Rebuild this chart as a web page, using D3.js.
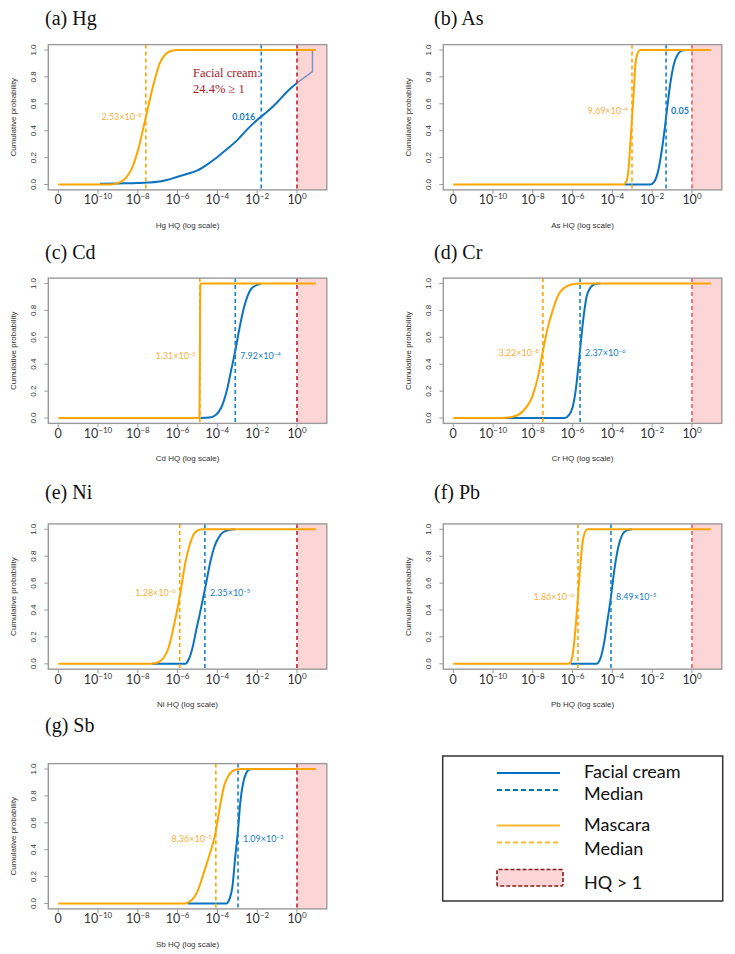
<!DOCTYPE html>
<html lang="en">
<head>
<meta charset="utf-8">
<style>
body { margin: 0; background: #fff; }
svg { font-family: Arial, "Liberation Sans", sans-serif; }
</style>
<script src="https://d3js.org/d3.v7.min.js"></script>
</head>
<body>
<svg width="735" height="954"></svg>
<script>

// ---- data (x values are log10 HQ, -12 is drawn as "0") ----
var titles = ["(a) Hg", "(b) As", "(c) Cd", "(d) Cr", "(e) Ni", "(f) Pb", "(g) Sb"];
var metals = ["Hg", "As", "Cd", "Cr", "Ni", "Pb", "Sb"];
var creamMedian   = [0.016, 0.05, 7.92e-4, 2.37e-6, 2.35e-5, 8.49e-5, 1.09e-3];
var mascaraMedian = [2.53e-8, 9.69e-4, 1.31e-5, 3.22e-8, 1.28e-6, 1.86e-6, 8.36e-5];
var creamText   = ["0.016", "0.05", "7.92×10^-4", "2.37×10^-6", "2.35×10^-5", "8.49×10^-5", "1.09×10^-3"];
var mascaraText = ["2.53×10^-8", "9.69×10^-4", "1.31×10^-5", "3.22×10^-8", "1.28×10^-6", "1.86×10^-6", "8.36×10^-5"];
var xTicks = [-12, -10, -8, -6, -4, -2, 0];
var xTickLabels = ["0", "10^-10", "10^-8", "10^-6", "10^-4", "10^-2", "10^0"];
var yTicks = [0, 0.2, 0.4, 0.6, 0.8, 1];

var creamHg = [[-9.9,0.005],[-9,0.008],[-8,0.011],[-7.5,0.014],[-7,0.02],[-6.5,0.035],[-6,0.058],[-5.5,0.08],[-5,0.105],[-4.5,0.15],[-4,0.205],[-3.5,0.265],[-3,0.33],[-2.5,0.41],[-2,0.48],[-1.5,0.54],[-1,0.61],[-0.5,0.69],[0,0.755]];
var creamHgTail = [[0,0.755],[0.78,0.84],[0.78,1]];
var creamAs = [[-3.4,0],[-2.1,0],[-1.9,0.02],[-1.7,0.1],[-1.5,0.27],[-1.3,0.5],[-1.1,0.74],[-0.9,0.9],[-0.7,0.97],[-0.5,0.995],[-0.3,1]];
var creamCd = [[-4.85,0],[-4.4,0.003],[-4.1,0.02],[-3.8,0.08],[-3.5,0.22],[-3.3,0.36],[-3.1,0.5],[-2.9,0.66],[-2.7,0.8],[-2.5,0.9],[-2.3,0.96],[-2,0.99],[-1.8,1]];
var creamCr = [[-9.4,0],[-6.4,0],[-6.2,0.02],[-6,0.08],[-5.85,0.2],[-5.63,0.5],[-5.45,0.75],[-5.3,0.9],[-5.1,0.97],[-4.9,0.995],[-4.6,1]];
var creamNi = [[-7.3,0],[-5.6,0],[-5.45,0.03],[-5.25,0.12],[-5.05,0.26],[-4.9,0.36],[-4.63,0.55],[-4.35,0.76],[-4.15,0.87],[-3.93,0.94],[-3.7,0.98],[-3.4,0.995],[-3.1,1]];
var creamPb = [[-6.1,0],[-4.8,0],[-4.6,0.04],[-4.4,0.17],[-4.25,0.32],[-4.07,0.5],[-3.9,0.7],[-3.7,0.87],[-3.5,0.96],[-3.3,0.99],[-3,1]];
var creamSb = [[-5.5,0],[-3.55,0],[-3.4,0.03],[-3.25,0.12],[-3.1,0.35],[-2.96,0.55],[-2.85,0.75],[-2.7,0.9],[-2.55,0.97],[-2.4,0.995],[-2.2,1]];

var mascaraHg = [[-12,0],[-9.4,0],[-9,0.01],[-8.6,0.05],[-8.3,0.12],[-8,0.25],[-7.6,0.5],[-7.2,0.75],[-6.9,0.9],[-6.6,0.97],[-6.3,0.995],[-6,1],[0.95,1]];
var mascaraAs = [[-12,0],[-3.45,0],[-3.3,0.02],[-3.2,0.1],[-3.1,0.3],[-3.01,0.5],[-2.92,0.7],[-2.85,0.88],[-2.75,0.97],[-2.6,1],[0.95,1]];
var mascaraCd = [[-12,0],[-4.92,0],[-4.9,0.02],[-4.88,0.5],[-4.86,0.98],[-4.83,1],[0.95,1]];
var mascaraCr = [[-12,0],[-9.6,0],[-9,0.01],[-8.5,0.05],[-8,0.17],[-7.75,0.3],[-7.49,0.5],[-7.25,0.67],[-7,0.8],[-6.7,0.92],[-6.4,0.97],[-6,0.995],[-5.6,1],[0.95,1]];
var mascaraNi = [[-12,0],[-7.4,0],[-7,0.01],[-6.7,0.045],[-6.45,0.12],[-6.25,0.24],[-5.89,0.5],[-5.6,0.76],[-5.4,0.88],[-5.2,0.96],[-5,0.99],[-4.8,1],[0.95,1]];
var mascaraPb = [[-12,0],[-6.2,0],[-6.05,0.03],[-5.95,0.12],[-5.85,0.27],[-5.73,0.5],[-5.6,0.75],[-5.5,0.9],[-5.4,0.97],[-5.25,1],[0.95,1]];
var mascaraSb = [[-12,0],[-5.6,0],[-5.4,0.015],[-5.2,0.04],[-5,0.09],[-4.7,0.22],[-4.4,0.36],[-4.1,0.52],[-3.85,0.74],[-3.65,0.88],[-3.4,0.96],[-3.1,0.995],[-2.8,1],[0.95,1]];

var creamCurves = [creamHg, creamAs, creamCd, creamCr, creamNi, creamPb, creamSb];
var mascaraCurves = [mascaraHg, mascaraAs, mascaraCd, mascaraCr, mascaraNi, mascaraPb, mascaraSb];

// ---- layout ----
var colX = [48.3, 443.3], boxW = 278.5;
var rowP1 = [50, 283.5, 529.3, 769], plotH = 134.5; // pixel of prob 1.0
var titleX = [45, 434], titleY = [24.5, 258.5, 499, 732];
var labelP = [0.5, 0.55, 0.46, 0.48, 0.53, 0.5, 0.48];
var creamSide = ["left", "right", "right", "right", "right", "right", "right"];

var ORANGE = "#ffa500", BLUE = "#0b72bd", BLUE_DASH = "#1683cf";
var PINK = "#fcd5d6";

var svg = d3.select("svg");

function supText(sel, str, supSize, lift) {
  var parts = str.split("^");
  sel.append("tspan").text(parts[0]);
  if (parts[1] !== undefined) {
    sel.append("tspan").attr("dy", -lift).attr("font-size", supSize)
      .text(parts[1].replace("-", "\u2212"));
  }
}

titles.forEach(function(title, i) {
  var col = i % 2, row = Math.floor(i / 2);
  var left = colX[col], right = left + boxW;
  var p1 = rowP1[row], p0 = p1 + plotH, pad = plotH * 0.04;
  var top = p1 - pad, bottom = p0 + pad;

  var x = d3.scaleLog().domain([Math.pow(10, -12.5), Math.pow(10, 1.5)]).range([left, right]);
  var y = d3.scaleLinear().domain([0, 1]).range([p0, p1]);
  var lx = function(d) { return x(Math.pow(10, d[0])); };
  var line = d3.line().x(lx).y(function(d) { return y(d[1]); }).curve(d3.curveMonotoneX);
  var straight = d3.line().x(lx).y(function(d) { return y(d[1]); });

  var g = svg.append("g");

  // title
  g.append("text").attr("x", titleX[col]).attr("y", titleY[row])
    .attr("font-family", "'Liberation Serif', 'Times New Roman', serif")
    .attr("font-size", 20).attr("fill", "#111").text(title);

  // HQ > 1 area
  g.append("rect").attr("x", x(1)).attr("y", top)
    .attr("width", right - x(1)).attr("height", bottom - top).attr("fill", PINK);

  // curves
  g.append("path").datum(creamCurves[i]).attr("d", line)
    .attr("fill", "none").attr("stroke", BLUE).attr("stroke-width", 2);
  if (i === 0) {
    g.append("path").datum(creamHgTail).attr("d", straight)
      .attr("fill", "none").attr("stroke", "#7a96c6").attr("stroke-width", 1.5);
  }
  g.append("path").datum(mascaraCurves[i]).attr("d", line)
    .attr("fill", "none").attr("stroke", ORANGE).attr("stroke-width", 2);

  // median and HQ = 1 lines
  [[mascaraMedian[i], ORANGE], [creamMedian[i], BLUE_DASH], [1, col === 0 ? "#c0272d" : "#ec5b5b"]].forEach(function(m) {
    g.append("line").attr("x1", x(m[0])).attr("x2", x(m[0]))
      .attr("y1", top).attr("y2", bottom)
      .attr("stroke", m[1]).attr("stroke-width", 1.6).attr("stroke-dasharray", "4,3");
  });

  // median labels
  var ly = y(labelP[i]) + 3;
  var mt = g.append("text").attr("x", x(mascaraMedian[i]) - 4).attr("y", ly)
    .attr("text-anchor", "end").attr("font-family", "Lato, sans-serif")
    .attr("font-size", 9).attr("fill", "#f7b13f");
  supText(mt, mascaraText[i], 6, 3);
  var bold = creamText[i].indexOf("^") < 0;
  var ct = g.append("text")
    .attr("x", creamSide[i] === "left" ? x(creamMedian[i]) - 6 : x(creamMedian[i]) + 5)
    .attr("y", ly)
    .attr("text-anchor", creamSide[i] === "left" ? "end" : "start")
    .attr("font-family", "Lato, sans-serif")
    .attr("font-weight", bold ? "bold" : "normal")
    .attr("font-size", 9).attr("fill", "#1a7cc5");
  supText(ct, creamText[i], 6, 3);

  // box
  g.append("rect").attr("x", left).attr("y", top).attr("width", boxW).attr("height", bottom - top)
    .attr("fill", "none").attr("stroke", "#9a9a9a").attr("stroke-width", 1.4);

  // y axis
  yTicks.forEach(function(t) {
    g.append("line").attr("x1", left - 4).attr("x2", left).attr("y1", y(t)).attr("y2", y(t))
      .attr("stroke", "#9a9a9a").attr("stroke-width", 1);
    g.append("text").attr("transform", "translate(" + (left - 12.5) + "," + y(t) + ") rotate(-90)")
      .attr("text-anchor", "middle").attr("font-size", 8).attr("fill", "#333")
      .text(d3.format(".1f")(t));
  });
  g.append("text").attr("transform", "translate(" + (left - 32) + "," + ((top + bottom) / 2) + ") rotate(-90)")
    .attr("text-anchor", "middle").attr("font-size", 8).attr("fill", "#333")
    .text("Cumulative probability");

  // x axis
  xTicks.forEach(function(t, k) {
    var px = x(Math.pow(10, t));
    g.append("line").attr("x1", px).attr("x2", px).attr("y1", bottom).attr("y2", bottom + 4)
      .attr("stroke", "#9a9a9a").attr("stroke-width", 1);
    var tt = g.append("text").attr("x", px).attr("y", bottom + 14.5)
      .attr("text-anchor", "middle").attr("font-family", "Lato, sans-serif")
      .attr("font-size", 12.5).attr("fill", "#333");
    supText(tt, xTickLabels[k], 8, 5);
  });
  g.append("text").attr("x", (left + right) / 2).attr("y", bottom + 38)
    .attr("text-anchor", "middle").attr("font-size", 8).attr("fill", "#333")
    .text(metals[i] + " HQ (log scale)");

  if (i === 0) {
    var note = g.append("text").attr("font-family", "'Liberation Serif', 'Times New Roman', serif")
      .attr("font-size", 12.5).attr("fill", "#a8201f");
    note.append("tspan").attr("x", 193).attr("y", 77).text("Facial cream:");
    note.append("tspan").attr("x", 193).attr("y", 93).text("24.4% \u2265 1");
  }
});

// ---- legend ----
var leg = svg.append("g");
leg.append("rect").attr("x", 442.7).attr("y", 756).attr("width", 280).attr("height", 145)
  .attr("fill", "#fff").attr("stroke", "#333").attr("stroke-width", 1.5);
var legItems = [
  { y: 773, color: "#0070c0", dash: null, label: "Facial cream" },
  { y: 790, color: "#0070c0", dash: "5,3", label: "Median" },
  { y: 825.5, color: "#ffb833", dash: null, label: "Mascara" },
  { y: 842.5, color: "#ffb833", dash: "5,3", label: "Median" }
];
var legTextY = [778, 800, 831, 854.5];
legItems.forEach(function(d, k) {
  leg.append("line").attr("x1", 497).attr("x2", 560).attr("y1", d.y).attr("y2", d.y)
    .attr("stroke", d.color).attr("stroke-width", 2).attr("stroke-dasharray", d.dash);
  leg.append("text").attr("x", 584).attr("y", legTextY[k])
    .attr("font-family", "Lato, sans-serif").attr("font-size", 18).attr("fill", "#111")
    .text(d.label);
});
leg.append("rect").attr("x", 497).attr("y", 869.5).attr("width", 66).attr("height", 16.5).attr("rx", 1.5)
  .attr("fill", PINK).attr("stroke", "#8b1a1a").attr("stroke-width", 1.6).attr("stroke-dasharray", "4,2");
leg.append("text").attr("x", 584).attr("y", 888.5)
  .attr("font-family", "Lato, sans-serif").attr("font-size", 18).attr("fill", "#111")
  .text("HQ > 1");

</script>
</body>
</html>
